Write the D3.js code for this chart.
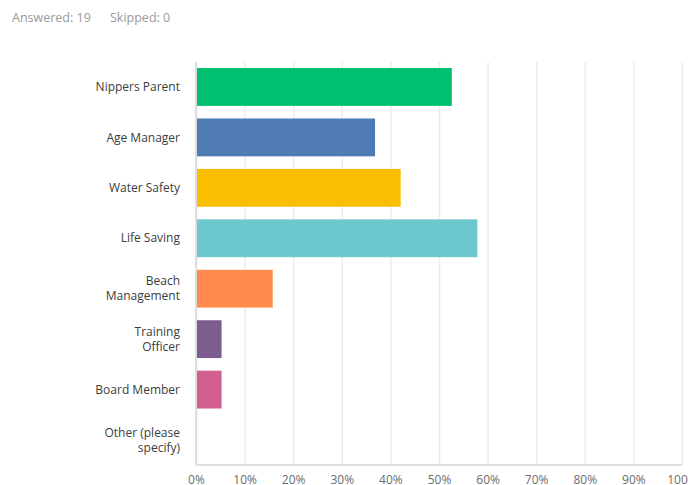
<!DOCTYPE html>
<html>
<head>
<meta charset="utf-8">
<script src="https://cdn.jsdelivr.net/npm/d3@7"></script>
<style>
  body { margin: 0; background: #fff; }
</style>
</head>
<body>
<div id="chart"></div>
<script>
// survey answers, share of respondents (19 answered)
const categories = ['Nippers Parent', 'Age Manager', 'Water Safety', 'Life Saving',
  'Beach Management', 'Training Officer', 'Board Member', 'Other (please specify)']
const labelLines = [['Nippers Parent'], ['Age Manager'], ['Water Safety'], ['Life Saving'],
  ['Beach', 'Management'], ['Training', 'Officer'], ['Board Member'], ['Other (please', 'specify)']]
const shares = [0.5263, 0.3684, 0.4211, 0.5789, 0.1579, 0.0526, 0.0526, 0]
const barColors = ['#00bf6f', '#507cb6', '#f9be00', '#6bc8cd', '#ff8b4f', '#7d5c90', '#d25f90', '#999999']
const tickValues = [0, 0.1, 0.2, 0.3, 0.4, 0.5, 0.6, 0.7, 0.8, 0.9, 1]

const width = 688
const height = 485
const margin = {top: 62, right: 6, bottom: 20, left: 196}
const innerWidth = width - margin.left - margin.right
const innerHeight = height - margin.top - margin.bottom

const svg = d3.select('#chart').append('svg')
  .attr('width', width)
  .attr('height', height)
  .style('font-family', '"Open Sans", sans-serif')

// header
svg.append('text')
  .attr('x', 12)
  .attr('y', 22)
  .attr('fill', '#9a9a9a')
  .style('font-size', '12.5px')
  .text('Answered: 19')
svg.append('text')
  .attr('x', 110)
  .attr('y', 22)
  .attr('fill', '#9a9a9a')
  .style('font-size', '12.5px')
  .text('Skipped: 0')

const data = categories.map((c, i) => ({key: c, value: shares[i], lines: labelLines[i], color: barColors[i]}))

const xScale = d3.scaleLinear().domain([0, 1]).range([0, innerWidth])
const yScale = d3.scaleBand()
  .domain(categories)
  .range([0, innerHeight])
  .paddingInner(0.25)
  .paddingOuter(0.12)

const g = svg.append('g')
  .attr('transform', `translate(${margin.left}, ${margin.top})`)

// grid lines + tick labels
const xAxis = d3.axisBottom(xScale)
  .tickValues(tickValues)
  .tickFormat(d3.format('.0%'))
  .tickSize(-innerHeight)
  .tickPadding(10)
const xg = g.append('g')
  .attr('transform', `translate(0, ${innerHeight})`)
  .call(xAxis)
xg.select('.domain').remove()
xg.selectAll('.tick line').attr('stroke', '#ececec').attr('stroke-width', 1.5)
xg.selectAll('.tick text')
  .attr('fill', '#6b6d70')
  .style('font-size', '12px')
  .style('font-family', '"Open Sans", sans-serif')

// baseline and left axis line
g.append('line')
  .attr('x1', 0).attr('x2', innerWidth)
  .attr('y1', innerHeight).attr('y2', innerHeight)
  .attr('stroke', '#d6d6d6').attr('stroke-width', 1.5)
g.append('line')
  .attr('x1', 0).attr('x2', 0)
  .attr('y1', 0).attr('y2', innerHeight)
  .attr('stroke', '#d6d6d6').attr('stroke-width', 1.5)

// bars
g.selectAll('rect.bar').data(data)
  .join('rect')
    .attr('class', 'bar')
    .attr('x', 1)
    .attr('y', d => yScale(d.key))
    .attr('width', d => Math.max(0, xScale(d.value) - 1))
    .attr('height', yScale.bandwidth())
    .attr('fill', d => d.color)

// category labels, wrapped like the original
const labels = g.selectAll('text.cat').data(data)
  .join('text')
    .attr('class', 'cat')
    .attr('text-anchor', 'end')
    .attr('fill', '#3b3d40')
    .style('font-size', '12px')
    .attr('transform', d => `translate(-16, ${yScale(d.key) + yScale.bandwidth() / 2})`)
labels.selectAll('tspan').data(d => d.lines.map((t, i) => ({t, i, n: d.lines.length})))
  .join('tspan')
    .attr('x', 0)
    .attr('y', d => (d.i - (d.n - 1) / 2) * 15)
    .attr('dy', '0.35em')
    .text(d => d.t)
</script>
</body>
</html>
